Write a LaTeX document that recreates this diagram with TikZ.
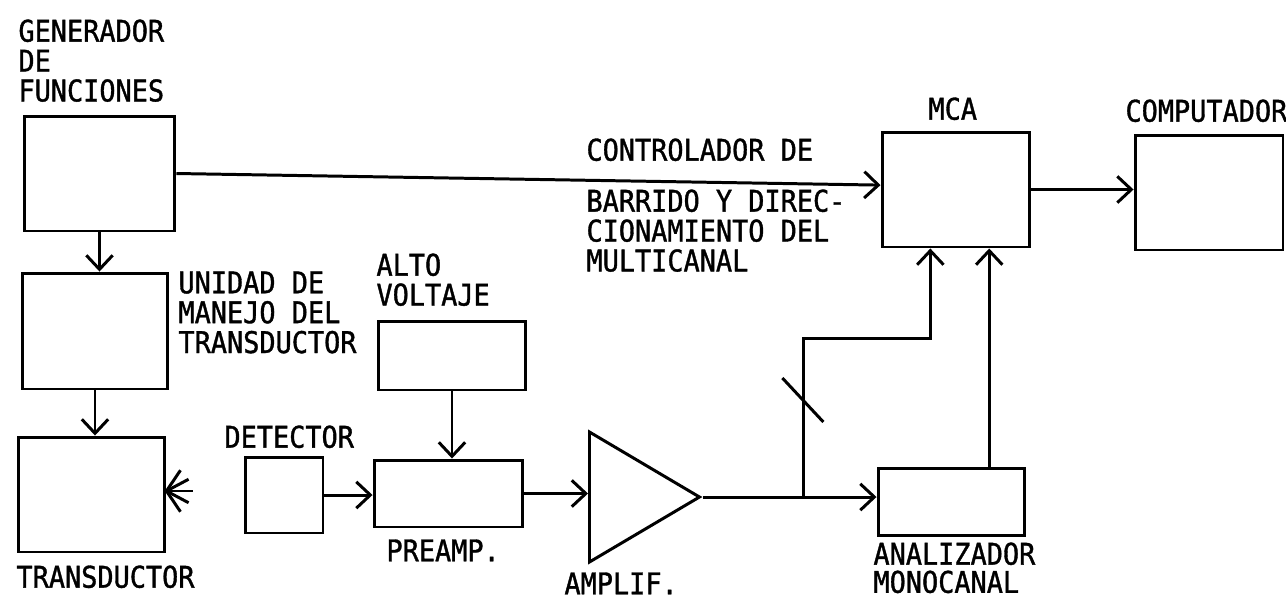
\documentclass[tikz,border=0pt]{standalone}
\usepackage{fontspec}
\usepackage{tikz}
\usetikzlibrary{arrows.meta, shapes.geometric, positioning, calc}
\newfontfamily\labelfont{DejaVu Sans Mono}[FakeStretch=0.9, FakeBold=1.2]

\begin{document}
\begin{tikzpicture}[
        x=0.02cm, y=-0.02cm,
        line width=1.7pt,
        box/.style={rectangle, draw, inner sep=0pt},
        lbl/.style={inner sep=0pt, anchor=north west, align=left, font=\labelfont\fontsize{17}{17}\selectfont},
        arrow/.style={-{Straight Barb[length=8pt, width=15pt]}}
    ]
        \useasboundingbox (0,0) rectangle (1286,600);

        \node (gen) [box, minimum width=3.02cm, minimum height=2.3cm] at (99.5,173.5) {};
        \node (uni) [box, minimum width=2.92cm, minimum height=2.32cm] at (95,331) {};
        \node (trans) [box, minimum width=2.94cm, minimum height=2.3cm] at (91.5,494.5) {};
        \node (det) [box, minimum width=1.56cm, minimum height=1.52cm] at (284,495) {};
        \node (pre) [box, minimum width=2.98cm, minimum height=1.34cm] at (448.5,493.5) {};
        \node (alto) [box, minimum width=2.96cm, minimum height=1.38cm] at (452,355.5) {};
        \node (amp) [isosceles triangle, isosceles triangle stretches, draw, inner sep=0pt, minimum width=2.6cm, minimum height=2.2cm, anchor=west] at (588,497) {};
        \node (ana) [box, minimum width=2.94cm, minimum height=1.34cm] at (951.5,502) {};
        \node (mca) [box, minimum width=2.96cm, minimum height=2.3cm] at (956,189.5) {};
        \node (comp) [box, minimum width=2.96cm, minimum height=2.3cm] at (1209,192.5) {};

        \node (genlbl) [lbl] at (17,18) {GENERADOR\\DE\\FUNCIONES};
        \node (unilbl) [lbl] at (177,270) {UNIDAD DE\\MANEJO DEL\\TRANSDUCTOR};
        \node (altolbl) [lbl] at (375,252) {ALTO\\VOLTAJE};
        \node (detlbl) [lbl] at (223,424) {DETECTOR};
        \node (translbl) [lbl] at (15,564) {TRANSDUCTOR};
        \node (prelbl) [lbl] at (385,538) {PREAMP.};
        \node (amplbl) [lbl] at (563,571) {AMPLIF.};
        \node (analbl) [lbl, font=\labelfont\fontsize{17}{16}\selectfont] at (872,541) {ANALIZADOR\\MONOCANAL};
        \node (mcalbl) [lbl] at (927,96) {MCA};
        \node (complbl) [lbl] at (1124,98) {COMPUTADOR};
        \node (ctrllbl) [lbl] at (585,137) {CONTROLADOR DE};
        \node (barrlbl) [lbl] at (585,188) {BARRIDO Y DIREC-\\CIONAMIENTO DEL\\MULTICANAL};

        \coordinate (tap) at ($(amp.apex)+(100,0)$);
        \coordinate (mcain1) at ($(mca.south west)!0.33!(mca.south east)$);
        \coordinate (mcain2) at ($(mca.south west)!0.72!(mca.south east)$);

        \draw [arrow] (gen.east) -- ([yshift=2.5pt]mca.west);
        \draw [arrow] (mca.east) -- (mca.east -| comp.west);
        \draw [arrow] (gen.south) -- (gen.south |- uni.north);
        \draw [arrow] (uni.south) -- (uni.south |- trans.north);
        \draw [arrow] (det.east) -- (det.east -| pre.west);
        \draw [arrow] (alto.south) -- (alto.south |- pre.north);
        \draw [arrow] (pre.east) -- (pre.east -| amp.west);
        \draw [arrow] (amp.apex) -- (amp.apex -| ana.west);
        \draw [arrow] (tap) -- ++(0,-159) -| (mcain1);
        \draw [arrow] (ana.north -| mcain2) -- (mcain2);

        \draw ($(tap)+(-21,-119)$) -- ++(41,44);
        \foreach \a/\l in {0/27, 28/25, -28/25, 56/25, -56/25}
            \draw ([yshift=2pt]trans.east) -- ++(\a:\l);
    \end{tikzpicture}
\end{document}
